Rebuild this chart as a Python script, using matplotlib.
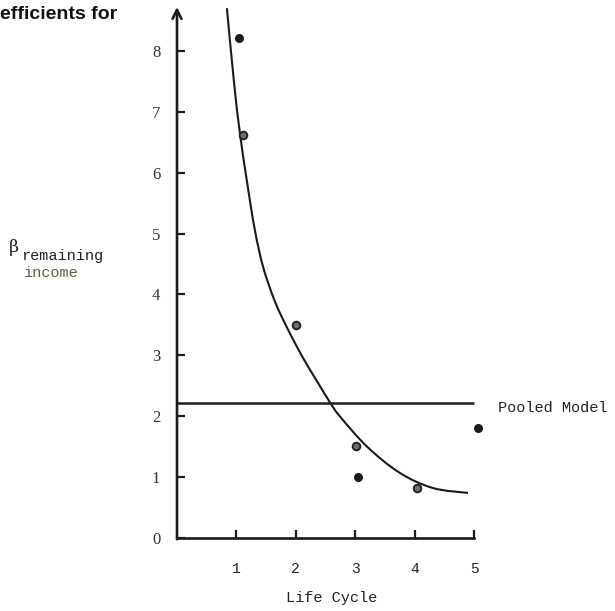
import matplotlib
matplotlib.use("Agg")
import matplotlib.pyplot as plt
from matplotlib.path import Path
from matplotlib.patches import PathPatch

# Life-cycle stage coefficients for remaining income
stage_solid_x = [1.04, 3.05, 5.07]
stage_solid_y = [8.21, 1.00, 1.81]
stage_ring_x = [1.11, 2.00, 3.01, 4.04]
stage_ring_y = [6.62, 3.50, 1.51, 0.82]

# fitted curve across life-cycle stages
curve_x = [0.84, 0.96, 1.06, 1.18, 1.31, 1.45, 1.65, 1.87, 2.12, 2.36,
           2.58, 2.74, 3.20, 3.75, 4.31, 4.90]
curve_y = [8.70, 7.48, 6.64, 5.84, 5.06, 4.45, 3.88, 3.42, 2.96, 2.57,
           2.22, 2.00, 1.50, 1.07, 0.82, 0.74]

# pooled model coefficient
pooled_value = 2.21

x_ticks = [1, 2, 3, 4, 5]
y_ticks = [0, 1, 2, 3, 4, 5, 6, 7, 8]


def smooth_path(xs, ys):
    """Cubic Bezier path passing through every (x, y) pair."""
    pts = list(zip(xs, ys))
    n = len(pts)
    verts = [pts[0]]
    codes = [Path.MOVETO]
    for i in range(n - 1):
        p0 = pts[i - 1] if i > 0 else pts[i]
        p1 = pts[i]
        p2 = pts[i + 1]
        p3 = pts[i + 2] if i + 2 < n else pts[i + 1]
        c1 = (p1[0] + (p2[0] - p0[0]) / 6, p1[1] + (p2[1] - p0[1]) / 6)
        c2 = (p2[0] - (p3[0] - p1[0]) / 6, p2[1] - (p3[1] - p1[1]) / 6)
        verts += [c1, c2, p2]
        codes += [Path.CURVE4] * 3
    return Path(verts, codes)


W, H = 615, 611
fig = plt.figure(figsize=(W / 100, H / 100), dpi=100)
fig.patch.set_facecolor("white")

ax = fig.add_axes([177 / W, 73 / H, 5.6 * 59.4 / W, 8.8 * 60.9 / H])
ax.set_xlim(0, 5.6)
ax.set_ylim(0, 8.8)
ax.set_facecolor("none")

for side in ("top", "right", "left"):
    ax.spines[side].set_visible(False)
ax.spines["bottom"].set_bounds(0, 5)
ax.spines["bottom"].set_linewidth(1.9)
ax.spines["bottom"].set_color("#1a1a1a")

# vertical axis with open arrow head
ax.annotate("", xy=(0, 8.72), xytext=(0, -0.02),
            arrowprops=dict(arrowstyle="->", lw=1.9, color="#1a1a1a",
                            mutation_scale=16, shrinkA=0, shrinkB=0),
            annotation_clip=False)

ax.set_xticks(x_ticks)
ax.set_yticks(y_ticks)
ax.set_xticklabels([str(v) for v in x_ticks], fontfamily="Liberation Mono",
                   fontsize=10.5, color="#222222")
ax.set_yticklabels([str(v) for v in y_ticks], fontfamily="Liberation Serif",
                   fontsize=12, color="#333333")
ax.tick_params(axis="x", direction="in", length=6, width=1.6, pad=17,
               color="#1a1a1a")
ax.tick_params(axis="y", direction="in", length=6, width=1.6, pad=12,
               color="#1a1a1a")

# pooled model line
ax.plot([0, 5], [pooled_value, pooled_value], color="#1e1e1e", lw=1.8,
        solid_capstyle="butt", clip_on=False)

# fitted curve
ax.add_patch(PathPatch(smooth_path(curve_x, curve_y), facecolor="none",
                       edgecolor="#1a1a1a", lw=1.5, clip_on=False))

# observed coefficients
ax.scatter(stage_solid_x, stage_solid_y, s=30, color="#1a1a1a", zorder=5,
           clip_on=False)
ax.scatter(stage_ring_x, stage_ring_y, s=30, facecolor="#6e6e6e",
           edgecolor="#222222", linewidths=1.4, zorder=5, clip_on=False)

# labels
fig.text(0, 1 - 19 / H, "efficients for", ha="left", va="baseline",
         fontfamily="Liberation Sans", fontweight="bold", fontsize=14,
         color="#111111")
fig.text(332 / W, 1 - 598 / H, "Life Cycle", ha="center", va="center",
         fontfamily="Liberation Mono", fontsize=11, color="#222222")
fig.text(498 / W, 1 - 408 / H, "Pooled Model", ha="left", va="center",
         fontfamily="Liberation Mono", fontsize=11, color="#222222")
fig.text(9 / W, 1 - 248 / H, "β", ha="left", va="center",
         fontfamily="DejaVu Serif", fontsize=12.5, color="#222222")
fig.text(21 / W, 1 - 256 / H, "remaining", ha="left", va="center",
         fontfamily="Liberation Mono", fontsize=11, color="#222222")
fig.text(24 / W, 1 - 273 / H, "income", ha="left", va="center",
         fontfamily="Liberation Mono", fontsize=11, color="#5f5f45")

fig.savefig("out.png", dpi=100, facecolor="white")
